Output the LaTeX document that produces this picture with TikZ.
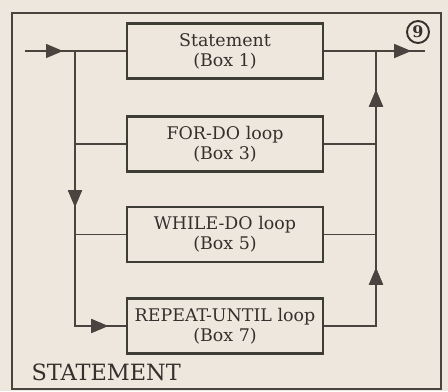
\documentclass[tikz,border=0pt]{standalone}
\usepackage{fontspec}
\setmainfont{DejaVu Serif}
\usetikzlibrary{arrows.meta,decorations.markings}
\definecolor{paper}{HTML}{EEE7DD}
\definecolor{ink}{HTML}{4A4440}
\definecolor{boxink}{HTML}{3D3D36}
\tikzset{
  every picture/.style={x=1bp, y=-1bp, font=\fontsize{17.5}{20}\selectfont, text=ink!70!black},
  wire/.style={draw=ink, line width=1.4bp},
  tipat/.style={postaction={decorate},
    decoration={markings, mark=at position #1 with {\arrow[ink]{Triangle[length=17bp,width=14bp]}}}},
  box/.style={draw=boxink, line width=2.4bp, minimum width=196bp, minimum height=55bp,
    align=center, inner sep=0pt},
}

\begin{document}
\begin{tikzpicture}
  \fill[paper] (0,0) rectangle (448,391);
  \useasboundingbox (0,0) rectangle (448,391);
  \draw[ink, line width=1.3bp] (12,13) rectangle (441,389);

  \node[box] (b1) at (225,51) {Statement\\(Box 1)};
  \node[box] (b3) at (225,144) {FOR-DO loop\\(Box 3)};
  \node[box] (b5) at (225,234.5) {WHILE-DO loop\\(Box 5)};
  \node[box] (b7) at (225,326) {REPEAT-UNTIL loop\\(Box 7)};

  \coordinate (in) at (25,51);
  \coordinate (jl) at (75,51);
  \coordinate (jr) at (376,51);
  \coordinate (out) at (425,51);

  % entry side
  \draw[wire, tipat=38bp] (in) -- (b1.west);
  \draw[wire, tipat=156bp, tipat=308bp] (jl) |- (b7.west);
  \draw[wire] (b3.west) -- (b3.west -| jl);
  \draw[wire] (b5.west) -- (b5.west -| jl);

  % exit side
  \draw[wire, tipat=87bp] (b1.east) -- (out);
  \draw[wire, tipat=110bp, tipat=288bp] (b7.east) -| (jr);
  \draw[wire] (b3.east) -- (b3.east -| jr);
  \draw[wire] (b5.east) -- (b5.east -| jr);

  \node[draw=ink!70!black, circle, line width=1.9bp, minimum size=22bp, inner sep=0pt,
    font=\fontsize{16}{16}\selectfont\bfseries] (nine) at (418,32) {9};
  \node[anchor=base west, font=\fontsize{22.5}{24}\selectfont] (title) at (28,380) {STATEMENT};
\end{tikzpicture}
\end{document}
